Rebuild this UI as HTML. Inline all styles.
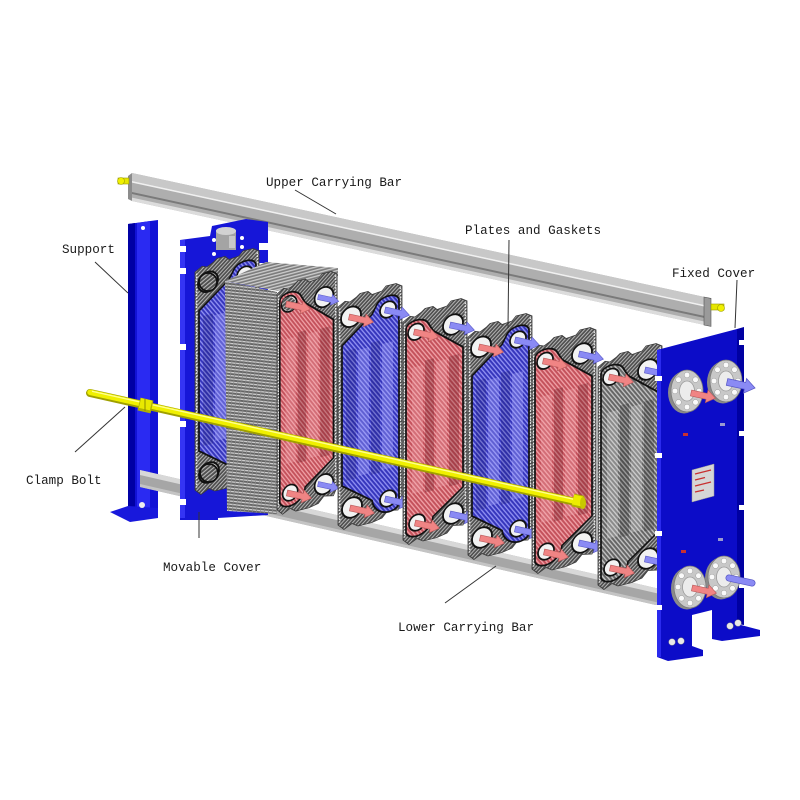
<!DOCTYPE html>
<html><head><meta charset="utf-8">
<style>
html,body{margin:0;padding:0;background:#fff;}
svg{display:block;}
text{font-family:"Liberation Mono","DejaVu Sans Mono",monospace;font-size:12.6px;fill:#1a1a1a;}
</style></head><body>
<svg width="800" height="800" viewBox="0 0 800 800" xmlns="http://www.w3.org/2000/svg">
<defs>
<pattern id="pf" width="3" height="3" patternUnits="userSpaceOnUse" patternTransform="rotate(50)"><rect width="3" height="3" fill="#4e4e4e"/><rect width="1.1" height="3" fill="#b8b8b8"/></pattern>
<pattern id="pr" width="3" height="3" patternUnits="userSpaceOnUse" patternTransform="rotate(-35)"><rect width="3" height="3" fill="#c4525c"/><rect width="1.2" height="3" fill="#f0a0a6"/></pattern>
<pattern id="pb" width="3" height="3" patternUnits="userSpaceOnUse" patternTransform="rotate(-35)"><rect width="3" height="3" fill="#3636bc"/><rect width="1.2" height="3" fill="#9090f2"/></pattern>
<pattern id="pg" width="3" height="3" patternUnits="userSpaceOnUse" patternTransform="rotate(-35)"><rect width="3" height="3" fill="#666"/><rect width="1.2" height="3" fill="#c4c4c4"/></pattern>
<pattern id="ph" width="4" height="3.2" patternUnits="userSpaceOnUse" patternTransform="rotate(6)"><rect width="4" height="3.2" fill="#646464"/><rect width="4" height="1.3" fill="#cfcfcf"/><rect width="0.8" height="3.2" fill="#8a8a8a"/></pattern>
<pattern id="pt" width="3" height="3" patternUnits="userSpaceOnUse" patternTransform="rotate(75)"><rect width="3" height="3" fill="#7c7c7c"/><rect width="1.3" height="3" fill="#cdcdcd"/></pattern>

<g id="frame">
 <path d="M0,4 L7,0 L12,2 L18,-1 L22,-4 L30,-4 L34,0 L44,-1 L48,-5 L58,-5 L64,-1 L64,214 L60,222 L50,220 L44,226 L34,228 L20,228 L14,224 L6,228 L0,222 Z" fill="url(#pf)" stroke="#3a3a3a" stroke-width="0.8"/>
 <path d="M1.6,6 L1.6,220 M62.4,0 L62.4,214" stroke="#ececec" stroke-width="1.5" stroke-dasharray="1.5,1.5"/>
</g>

<g id="plR">
 <use href="#frame"/>
 <path d="M3,12 C4,4 20,3 25,11 L30,20 L60,44 L60,184 L30,206 C28,222 8,226 3,216 Z" fill="url(#pr)" stroke="#111" stroke-width="1.7"/>
 <rect x="9" y="52" width="11" height="126" fill="#f6b0b6" opacity=".3"/>
 <rect x="22" y="48" width="9" height="132" fill="#5a1018" opacity=".28"/>
 <rect x="33" y="52" width="11" height="126" fill="#f6b0b6" opacity=".3"/>
 <rect x="46" y="50" width="10" height="130" fill="#5a1018" opacity=".28"/>
 <circle cx="13" cy="17" r="8" fill="#f2f2f2" stroke="#111" stroke-width="1.7"/>
 <circle cx="50" cy="19" r="10" fill="#f2f2f2" stroke="#111" stroke-width="1.8"/>
 <circle cx="14" cy="208" r="8" fill="#f2f2f2" stroke="#111" stroke-width="1.7"/>
 <circle cx="50" cy="208" r="10" fill="#f2f2f2" stroke="#111" stroke-width="1.8"/>
</g>

<g id="plG">
 <use href="#frame"/>
 <path d="M3,12 C4,4 20,3 25,11 L30,20 L60,44 L60,184 L30,206 C28,222 8,226 3,216 Z" fill="url(#pg)" stroke="#111" stroke-width="1.7"/>
 <rect x="9" y="52" width="11" height="126" fill="#e0e0e0" opacity=".3"/>
 <rect x="22" y="48" width="9" height="132" fill="#000" opacity=".2"/>
 <rect x="33" y="52" width="11" height="126" fill="#e0e0e0" opacity=".3"/>
 <rect x="46" y="50" width="10" height="130" fill="#000" opacity=".2"/>
 <circle cx="13" cy="17" r="8" fill="#f2f2f2" stroke="#111" stroke-width="1.7"/>
 <circle cx="50" cy="19" r="10" fill="#f2f2f2" stroke="#111" stroke-width="1.8"/>
 <circle cx="14" cy="208" r="8" fill="#f2f2f2" stroke="#111" stroke-width="1.7"/>
 <circle cx="50" cy="208" r="10" fill="#f2f2f2" stroke="#111" stroke-width="1.8"/>
</g>

<g id="plB">
 <use href="#frame"/>
 <path d="M61,12 C60,4 44,3 39,11 L34,20 L4,44 L4,184 L34,206 C36,222 56,226 61,216 Z" fill="url(#pb)" stroke="#111" stroke-width="1.7"/>
 <rect x="8" y="50" width="10" height="130" fill="#10105a" opacity=".22"/>
 <rect x="20" y="52" width="11" height="126" fill="#b0b0ff" opacity=".35"/>
 <rect x="33" y="48" width="9" height="132" fill="#10105a" opacity=".22"/>
 <rect x="44" y="52" width="11" height="126" fill="#b0b0ff" opacity=".35"/>
 <circle cx="13" cy="17" r="10" fill="#f2f2f2" stroke="#111" stroke-width="1.8"/>
 <circle cx="50" cy="19" r="8" fill="#f2f2f2" stroke="#111" stroke-width="1.7"/>
 <circle cx="14" cy="208" r="10" fill="#f2f2f2" stroke="#111" stroke-width="1.8"/>
 <circle cx="50" cy="208" r="8" fill="#f2f2f2" stroke="#111" stroke-width="1.7"/>
</g>

<g id="aR"><path d="M0,-3 L16,-3 L16,-6.5 L25,0 L16,6.5 L16,3 L0,3 Z" fill="#f08484" stroke="#b85858" stroke-width="0.6"/></g>
<g id="aB"><path d="M0,-3 L16,-3 L16,-6.5 L25,0 L16,6.5 L16,3 L0,3 Z" fill="#8a8af4" stroke="#5656c4" stroke-width="0.6"/></g>

<g id="fl">
 <ellipse cx="-3" cy="1.5" rx="16" ry="21" fill="#8a8a8a"/>
 <ellipse cx="0" cy="0" rx="16" ry="21" fill="#c8c8c8" stroke="#7a7a7a" stroke-width="0.8"/>
 <ellipse cx="0" cy="0" rx="7.5" ry="10" fill="#ececec" stroke="#9a9a9a" stroke-width="0.8"/>
 <g fill="#fafafa" stroke="#9a9a9a" stroke-width="0.5">
  <circle cx="12" cy="0" r="2.8"/><circle cx="8.5" cy="11.3" r="2.8"/><circle cx="0" cy="16" r="2.8"/><circle cx="-8.5" cy="11.3" r="2.8"/>
  <circle cx="-12" cy="0" r="2.8"/><circle cx="-8.5" cy="-11.3" r="2.8"/><circle cx="0" cy="-16" r="2.8"/><circle cx="8.5" cy="-11.3" r="2.8"/>
 </g>
</g>
</defs>

<rect width="800" height="800" fill="#fff"/>

<!-- Upper carrying bar -->
<polygon points="132,173 711,298.4 711,326.4 132,201" fill="#aeaeae"/>
<polygon points="132,173 711,298.4 711,306.4 132,181" fill="#c8c8c8"/>
<polygon points="132,181 711,306.4 711,308 132,182.6" fill="#f0f0f0"/>
<polygon points="132,192 711,317.4 711,319.4 132,194" fill="#7a7a7a"/>
<polygon points="132,197.6 711,323 711,326.4 132,201" fill="#dcdcdc"/>
<polygon points="128,176 132,173 132,201 128,199" fill="#8c8c8c"/>
<polygon points="704,297 711,298.4 711,326.4 704,325" fill="#9a9a9a" stroke="#555" stroke-width="0.6"/>
<rect x="118" y="178" width="11" height="6" fill="#e6e600" stroke="#9a9a00" stroke-width="0.6"/>
<circle cx="121" cy="181" r="3.5" fill="#f0f000" stroke="#9a9a00" stroke-width="0.6"/>
<rect x="711" y="304" width="13" height="6" fill="#e6e600" stroke="#9a9a00" stroke-width="0.6"/>
<circle cx="721" cy="308" r="3.5" fill="#f0f000" stroke="#9a9a00" stroke-width="0.6"/>

<!-- Support -->
<polygon points="128,224 158,220 158,512 128,516" fill="#1212d6"/>
<polygon points="128,224 135,223 135,515 128,516" fill="#0000a4"/>
<polygon points="137,223 150,221 150,513 137,515" fill="#2a2af2"/>
<polygon points="110,512 128,506 158,508 158,518 130,522" fill="#1818dc"/>
<circle cx="143" cy="228" r="2" fill="#fff"/>
<circle cx="142" cy="505" r="3" fill="#eee"/>

<!-- Lower carrying bar -->
<polygon points="140,470 660,589 660,606 140,487" fill="#a6a6a6"/>
<polygon points="140,470 660,589 660,594 140,475" fill="#d8d8d8"/>
<polygon points="140,484 660,603 660,606 140,487" fill="#c4c4c4"/>

<!-- Movable cover -->
<path d="M180,240 L210,236 L212,226 L246,219 L268,222 L268,515 L218,518 L218,520 L180,520 Z" fill="#1616d8"/>
<rect x="180" y="240" width="5" height="278" fill="#3434f4"/>
<g fill="#fff">
 <rect x="178" y="246" width="8" height="6"/><rect x="178" y="268" width="8" height="6"/><rect x="178" y="344" width="8" height="6"/>
 <rect x="178" y="421" width="8" height="6"/><rect x="178" y="499" width="8" height="6"/>
 <rect x="259" y="243" width="10" height="7"/><rect x="259" y="263" width="10" height="6"/>
 <circle cx="242" cy="238" r="2"/><circle cx="242" cy="247" r="2"/>
 <circle cx="214" cy="240" r="2"/><circle cx="214" cy="254" r="2"/>
</g>
<rect x="216" y="230" width="20" height="20" fill="#a4a4a4"/>
<ellipse cx="226" cy="231" rx="10" ry="4" fill="#d2d2d2"/>
<rect x="229" y="236" width="6" height="12" fill="#c8c8c8"/>

<!-- P0 -->
<use href="#plB" transform="matrix(1,-0.25,0,1,195,268)"/>
<circle cx="208" cy="282" r="9" fill="url(#pf)" stroke="#111" stroke-width="1.8"/>
<circle cx="209" cy="473" r="9" fill="url(#pf)" stroke="#111" stroke-width="1.8"/>

<!-- Stack -->
<polygon points="225,281 277,292 277,514 227,511" fill="url(#ph)"/>
<polygon points="225,281 266,262 338,268 338,276 277,291" fill="url(#pt)"/>
<use href="#plR" transform="matrix(0.94,-0.235,0,0.99,277,290)"/>
<circle cx="289" cy="304" r="7" fill="url(#pf)"/>
<use href="#aR" transform="translate(286,304) rotate(12)"/>
<use href="#aB" transform="translate(318,297) rotate(12) scale(0.85)"/>
<use href="#aR" transform="translate(287,493) rotate(12)"/>
<use href="#aB" transform="translate(318,484) rotate(12) scale(0.85)"/>

<!-- P1 -->
<use href="#plB" transform="matrix(1,-0.25,0,1,338,303)"/>
<use href="#aR" transform="translate(349,317) rotate(12)"/>
<use href="#aB" transform="translate(385,310) rotate(12)"/>
<use href="#aR" transform="translate(350,508) rotate(12)"/>
<use href="#aB" transform="translate(385,499) rotate(12)"/>
<!-- P2 -->
<use href="#plR" transform="matrix(1,-0.25,0,1,403,318)"/>
<use href="#aR" transform="translate(414,332) rotate(12)"/>
<use href="#aB" transform="translate(450,325) rotate(12)"/>
<use href="#aR" transform="translate(415,523) rotate(12)"/>
<use href="#aB" transform="translate(450,514) rotate(12)"/>
<!-- P3 -->
<use href="#plB" transform="matrix(1,-0.25,0,1,468,333)"/>
<use href="#aR" transform="translate(479,347) rotate(12)"/>
<use href="#aB" transform="translate(515,340) rotate(12)"/>
<use href="#aR" transform="translate(480,538) rotate(12)"/>
<use href="#aB" transform="translate(515,529) rotate(12)"/>
<!-- P4 -->
<use href="#plR" transform="matrix(1,-0.25,0,1,532,347)"/>
<use href="#aR" transform="translate(543,361) rotate(12)"/>
<use href="#aB" transform="translate(579,354) rotate(12)"/>
<use href="#aR" transform="translate(544,552) rotate(12)"/>
<use href="#aB" transform="translate(579,543) rotate(12)"/>
<!-- P5 -->
<use href="#plG" transform="matrix(1,-0.25,0,1,598,363)"/>
<use href="#aR" transform="translate(609,377) rotate(12)"/>
<use href="#aB" transform="translate(645,370) rotate(12)"/>
<use href="#aR" transform="translate(610,568) rotate(12)"/>
<use href="#aB" transform="translate(645,559) rotate(12)"/>

<!-- Fixed cover -->
<path d="M657,350 L737,329 L737,624 L760,630 L760,636 L722,641 L712,639 L712,610 L692,615 L692,646 L703,650 L703,656 L668,661 L657,657 Z" fill="#0c0cc8"/>
<polygon points="737,329 744,327 744,625 737,624" fill="#0000a2"/>
<polygon points="657,350 661,349 661,657 657,657" fill="#2a2aee"/>
<g fill="#fff">
 <rect x="655" y="376" width="7" height="5"/><rect x="655" y="453" width="7" height="5"/><rect x="655" y="531" width="7" height="5"/><rect x="655" y="605" width="7" height="5"/>
 <rect x="739" y="340" width="7" height="5"/><rect x="739" y="431" width="7" height="5"/><rect x="739" y="505" width="7" height="5"/><rect x="739" y="583" width="7" height="5"/>
</g>
<polygon points="692,470 714,464 714,496 692,502" fill="#d6d6d6" stroke="#999" stroke-width="0.5"/>
<g stroke="#c83030" stroke-width="1.2">
 <line x1="695" y1="474" x2="711" y2="470"/><line x1="695" y1="480" x2="705" y2="477.5"/><line x1="695" y1="486" x2="711" y2="482"/><line x1="695" y1="492" x2="704" y2="490"/>
</g>
<rect x="683" y="433" width="5" height="3" fill="#c83030"/>
<rect x="681" y="550" width="5" height="3" fill="#c83030"/>
<rect x="720" y="423" width="5" height="3" fill="#9a9ad0"/>
<rect x="718" y="538" width="5" height="3" fill="#9a9ad0"/>
<g fill="#e8e8e8" stroke="#888" stroke-width="0.5">
 <circle cx="672" cy="642" r="3.3"/><circle cx="681" cy="641" r="3.3"/>
 <circle cx="730" cy="626" r="3.3"/><circle cx="738" cy="623" r="3.3"/>
</g>

<!-- flanges -->
<use href="#fl" transform="translate(726,381)"/>
<use href="#fl" transform="translate(687,391)"/>
<use href="#aR" transform="translate(691,393) rotate(12)"/>
<use href="#aB" transform="translate(727,382) rotate(12) scale(1.15)"/>
<use href="#fl" transform="translate(724,577)"/>
<use href="#fl" transform="translate(690,587)"/>
<use href="#aR" transform="translate(692,588) rotate(12)"/>
<line x1="729" y1="578" x2="752" y2="583" stroke="#5656c4" stroke-width="7" stroke-linecap="round"/>
<line x1="729" y1="578" x2="752" y2="583" stroke="#8a8af4" stroke-width="5.6" stroke-linecap="round"/>

<!-- Clamp bolt -->
<line x1="90" y1="393" x2="580" y2="503" stroke="#a0a000" stroke-width="8" stroke-linecap="round"/>
<line x1="90" y1="392.3" x2="580" y2="502.3" stroke="#f0f000" stroke-width="5.5" stroke-linecap="round"/>
<line x1="92" y1="391.2" x2="578" y2="500.3" stroke="#ffff90" stroke-width="1.3"/>
<line x1="139" y1="404" x2="152" y2="407" stroke="#b0b000" stroke-width="13"/>
<line x1="140" y1="403" x2="151" y2="405.5" stroke="#e8e800" stroke-width="10"/>
<line x1="145" y1="399" x2="145" y2="411" stroke="#8a8a00" stroke-width="1"/>
<line x1="573" y1="500" x2="583" y2="502.3" stroke="#b0b000" stroke-width="13"/>
<line x1="573" y1="499.5" x2="582" y2="501.5" stroke="#ecec00" stroke-width="10"/>
<ellipse cx="583" cy="503" rx="3" ry="6" fill="#c8c800"/>

<!-- Leader lines -->
<g stroke="#333" stroke-width="1" fill="none">
 <line x1="295" y1="190" x2="336" y2="214"/>
 <line x1="95" y1="262" x2="128" y2="293"/>
 <line x1="509" y1="240" x2="508" y2="328"/>
 <line x1="737" y1="280" x2="735" y2="328"/>
 <line x1="75" y1="452" x2="125" y2="407"/>
 <line x1="199" y1="538" x2="199" y2="512"/>
 <line x1="445" y1="603" x2="496" y2="566"/>
</g>

<!-- Labels -->
<text x="266" y="186">Upper Carrying Bar</text>
<text x="62" y="253">Support</text>
<text x="465" y="234">Plates and Gaskets</text>
<text x="672" y="277">Fixed Cover</text>
<text x="26" y="484">Clamp Bolt</text>
<text x="163" y="571">Movable Cover</text>
<text x="398" y="631">Lower Carrying Bar</text>
</svg>
</body></html>
